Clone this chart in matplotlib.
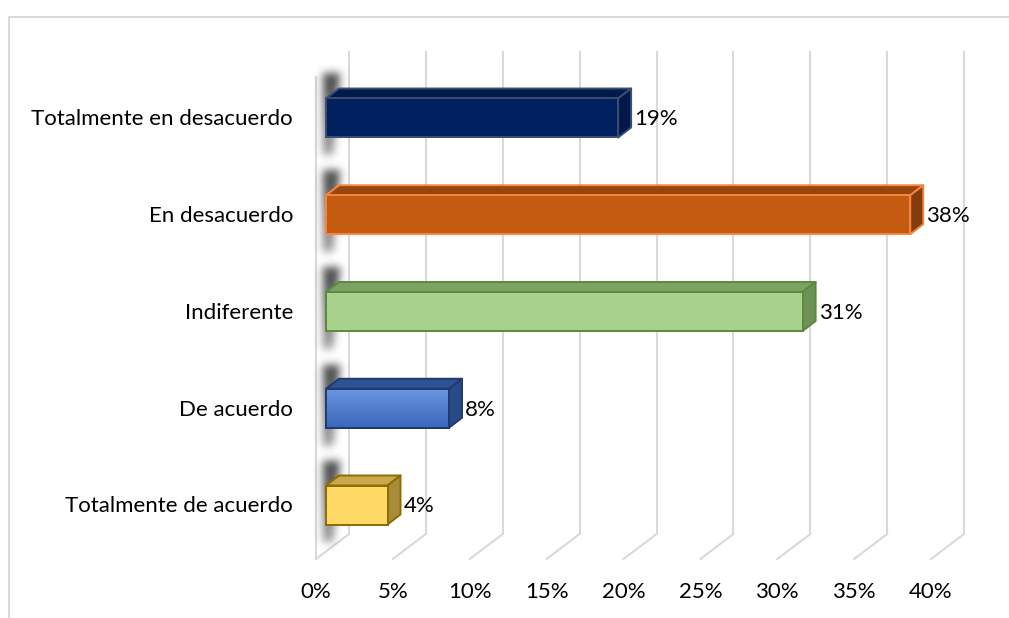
import numpy as np
import matplotlib
matplotlib.use("Agg")
import matplotlib.pyplot as plt
from matplotlib.patches import Polygon
from matplotlib.lines import Line2D
from matplotlib.colors import to_rgb

categorias = ["Totalmente en desacuerdo", "En desacuerdo", "Indiferente",
              "De acuerdo", "Totalmente de acuerdo"]
porcentajes = [19, 38, 31, 8, 4]
ticks_x = [0, 5, 10, 15, 20, 25, 30, 35, 40]

# colores: cara frontal, cara superior, cara lateral, borde
frente = ["#002060", "#C55A11", "#A9D18E", "#4472C4", "#FFD966"]
techo = ["#001A4C", "#9A440E", "#7DA266", "#2F5293", "#C9A84E"]
lado = ["#00184A", "#843C0C", "#6E9157", "#2A4A86", "#A88C3A"]
borde = ["#3B4E6E", "#F4873F", "#5A8A3C", "#1F3A73", "#8C6D00"]

W, H = 1009, 618
PX = 15.375   # pixeles por 1 %
PY = 96.75    # pixeles entre categorias
X0, Y0 = 326, 118  # pixel del 0 % y de la primera barra

fig = plt.figure(figsize=(W / 100, H / 100), dpi=100)
ax = fig.add_axes([0, 0, 1, 1])
ax.set_xlim(-X0 / PX, (W - X0) / PX)
ax.set_ylim((H - Y0) / PY, -Y0 / PY)
ax.axis("off")

FUENTE = ["Lato", "DejaVu Sans"]
TAM = 16
GRIS = "#D9D9D9"

h = 39 / PY                 # alto de la cara frontal
bx, by = 13 / PX, -10 / PY  # fondo de cada barra
fx = -10 / PX               # plano frontal de las paredes
wx, wy = 33 / PX, -25 / PY  # profundidad total del grafico
y_piso = (559 - Y0) / PY    # borde frontal del piso
y_techo = (52 - Y0) / PY    # borde superior de la pared del fondo

# pared del fondo, piso y pared lateral
for t in ticks_x:
    xf = t + fx
    xb = xf + wx
    ax.plot([xb, xb], [y_techo, y_piso + wy], color=GRIS, lw=1.5, zorder=1)
    ax.plot([xb, xf], [y_piso + wy, y_piso], color=GRIS, lw=1.5, zorder=1)
ax.plot([fx, fx], [y_techo - wy, y_piso], color=GRIS, lw=1.5, zorder=1)


def gauss_blur(a, s):
    r = int(3 * s)
    k = np.exp(-0.5 * (np.arange(-r, r + 1) / s) ** 2)
    k /= k.sum()
    a = np.apply_along_axis(lambda m: np.convolve(m, k, mode="same"), 0, a)
    return np.apply_along_axis(lambda m: np.convolve(m, k, mode="same"), 1, a)


# sombra difusa sobre la pared lateral
def sombra(i):
    top = Y0 + i * PY - 39 / 2
    bot = top + 39
    u0, u1 = -25, 30
    v0, v1 = top - 50, bot + 40
    uu, vv = np.meshgrid(np.arange(u0, u1) + 0.5, np.arange(v0, v1) + 0.5)
    # franja vertical, mas ancha arriba por la profundidad
    frac = (vv - (top - 24)) / ((bot + 18) - (top - 24))
    izq = -3 + 0 * frac
    der = 14 - 7 * frac
    m = ((uu >= izq) & (uu <= der) & (frac >= 0) & (frac <= 1)).astype(float)
    m *= 0.8 - 0.35 * np.clip(frac, 0, 1)
    m = gauss_blur(m, 4.3)
    img = np.zeros(m.shape + (4,))
    img[..., :3] = 0.08
    img[..., 3] = m
    ax.imshow(img, extent=(u0 / PX, u1 / PX, (v1 - Y0) / PY, (v0 - Y0) / PY),
              origin="upper", aspect="auto", interpolation="bilinear", zorder=2)


for i in range(len(categorias)):
    sombra(i)

ys = np.arange(len(categorias))
barras = ax.barh(ys, porcentajes, height=h, color=frente, edgecolor=borde,
                 linewidth=1.4, zorder=4)

# degradado de la cara frontal de "De acuerdo"
b = barras[3]
grad = np.linspace(0, 1, 64)[:, None, None]
c1, c2 = np.array(to_rgb("#6A95DE")), np.array(to_rgb("#3A66BC"))
img = (c1 * (1 - grad) + c2 * grad) * np.ones((64, 2, 3))
im = ax.imshow(img, extent=(0, porcentajes[3], 3 + h / 2, 3 - h / 2),
               origin="upper", aspect="auto", zorder=4.5)
im.set_clip_path(b)
ax.add_patch(Polygon([(0, 3 - h / 2), (porcentajes[3], 3 - h / 2),
                      (porcentajes[3], 3 + h / 2), (0, 3 + h / 2)],
                     closed=True, fill=False, edgecolor=borde[3], lw=1.4, zorder=4.6))

for i, v in enumerate(porcentajes):
    arriba = i - h / 2
    abajo = i + h / 2
    sup = [(0, arriba), (v, arriba), (v + bx, arriba + by), (bx, arriba + by)]
    lat = [(v, arriba), (v, abajo), (v + bx, abajo + by), (v + bx, arriba + by)]
    ax.add_patch(Polygon(sup, closed=True, facecolor=techo[i], edgecolor=borde[i],
                         lw=1.4, joinstyle="round", zorder=3))
    ax.add_patch(Polygon(lat, closed=True, facecolor=lado[i], edgecolor=borde[i],
                         lw=1.4, joinstyle="round", zorder=3))
    ax.text(v + bx + 3 / PX, i + 1.5 / PY, f"{v}%", ha="left", va="center",
            fontsize=TAM, family=FUENTE, color="#000000", zorder=6)

for i, c in enumerate(categorias):
    ax.text((293 - X0) / PX, i + 1.5 / PY, c, ha="right", va="center",
            fontsize=TAM, family=FUENTE, color="#000000")

for t in ticks_x:
    ax.text(t + fx, (592 - Y0) / PY, f"{t}%", ha="center", va="center",
            fontsize=TAM, family=FUENTE, color="#000000")

# marco del area del grafico
fig.add_artist(Line2D([8.5 / W, 8.5 / W, 1], [0, 1 - 16.5 / H, 1 - 16.5 / H],
                      transform=fig.transFigure, color=GRIS, lw=1.5))

fig.savefig("out.png", dpi=100)
